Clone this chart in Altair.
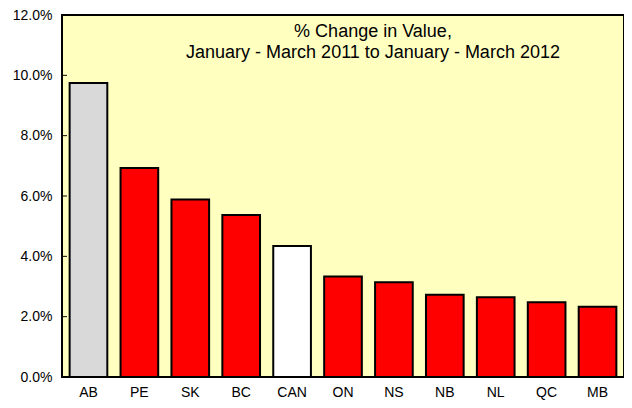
import altair as alt
import pandas as pd

regions = ["AB", "PE", "SK", "BC", "CAN", "ON", "NS", "NB", "NL", "QC", "MB"]
changes = [9.75, 6.93, 5.88, 5.37, 4.34, 3.33, 3.14, 2.73, 2.64, 2.48, 2.33]
tick_values = [0, 2, 4, 6, 8, 10, 12]
title_lines = ["% Change in Value,", "January - March 2011 to January - March 2012"]

FONT = "Liberation Sans"

df = pd.DataFrame({"region": regions, "change": [c / 100 for c in changes]})
ticks_df = pd.DataFrame({"t": [t / 100 for t in tick_values]})

yscale = alt.Scale(domain=[0, 0.12], nice=False, zero=True)

fill = (
    alt.when(alt.datum.region == "AB").then(alt.value("#D9D9D9"))
    .when(alt.datum.region == "CAN").then(alt.value("#FFFFFF"))
    .otherwise(alt.value("#FF0000"))
)

bars = alt.Chart(df).mark_bar(stroke="black", strokeWidth=2).encode(
    x=alt.X(
        "region:N",
        sort=regions,
        scale=alt.Scale(paddingInner=0.26, paddingOuter=0.15),
        axis=alt.Axis(title=None, labelAngle=0, ticks=False, domain=False,
                      labelPadding=8, labelFontSize=14, labelFont=FONT,
                      labelColor="black"),
    ),
    y=alt.Y(
        "change:Q",
        scale=yscale,
        axis=alt.Axis(title=None, values=[t / 100 for t in tick_values],
                      format=".1%", ticks=False, domain=False, grid=False,
                      labelPadding=10, labelFontSize=14, labelFont=FONT,
                      labelColor="black"),
    ),
    fill=fill,
)

rules = alt.Chart(ticks_df).mark_rule(color="black", strokeWidth=1).encode(
    y=alt.Y("t:Q", scale=yscale),
    x=alt.value(0),
    x2=alt.value(5),
)

text1 = alt.Chart(pd.DataFrame({"txt": [title_lines[0]]})).mark_text(
    font=FONT, fontSize=18, color="black", align="center", baseline="alphabetic"
).encode(text="txt:N", x=alt.value(311), y=alt.value(22))

text2 = alt.Chart(pd.DataFrame({"txt": [title_lines[1]]})).mark_text(
    font=FONT, fontSize=18, color="black", align="center", baseline="alphabetic"
).encode(text="txt:N", x=alt.value(311), y=alt.value(42.5))

chart = alt.layer(bars, rules, text1, text2).properties(
    width=562,
    height=362,
    autosize=alt.AutoSizeParams(type="none"),
    padding={"left": 54, "top": 7, "right": 0, "bottom": 23},
    background="white",
).configure_view(
    fill="#FFFFC0", stroke="black", strokeWidth=2
)

chart.save("out.html", embed_options={"renderer": "svg", "actions": False})
